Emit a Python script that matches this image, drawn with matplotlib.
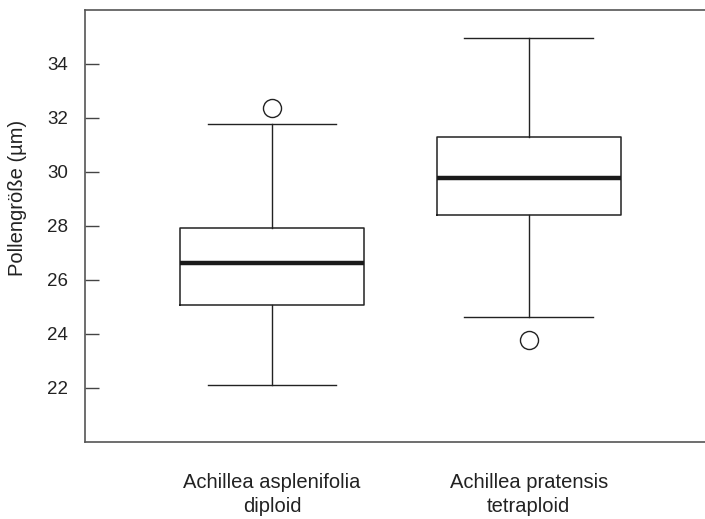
import matplotlib
matplotlib.use("Agg")
import matplotlib.pyplot as plt

plt.rcParams['font.family'] = ['Liberation Sans', 'DejaVu Sans']

labels = ["Achillea asplenifolia\ndiploid", "Achillea pratensis\ntetraploid"]
whislo = [22.12, 24.63]
q1 = [25.08, 28.41]
med = [26.62, 29.77]
q3 = [27.92, 31.30]
whishi = [31.79, 34.96]
fliers = [[32.36], [23.79]]

stats = []
for i in range(len(labels)):
    stats.append(dict(label=labels[i], whislo=whislo[i], q1=q1[i], med=med[i],
                      q3=q3[i], whishi=whishi[i], fliers=fliers[i]))

fig = plt.figure(figsize=(7.05, 5.19), dpi=100)
ax = fig.add_axes([85 / 705, 1 - 442 / 519, 1 - 85 / 705, 432 / 519])

lc = "#222222"
ax.bxp(stats, positions=[1, 2], widths=0.717, capwidths=0.5,
       boxprops=dict(color=lc, linewidth=1.1),
       whiskerprops=dict(color=lc, linewidth=1.0),
       capprops=dict(color=lc, linewidth=1.0),
       medianprops=dict(color="#1a1a1a", linewidth=3.2),
       flierprops=dict(marker="o", markersize=13, markerfacecolor="white",
                       markeredgecolor=lc, markeredgewidth=1.0))

ax.set_xlim(0.2715, 2.687)
ax.set_ylim(20, 36)
ax.set_yticks([22, 24, 26, 28, 30, 32, 34])
ax.tick_params(axis="y", direction="in", length=10, width=1, color="#444444",
               labelsize=13.5, pad=12, labelcolor="#222222")
ax.tick_params(axis="x", length=0, labelsize=14.5, pad=22, labelcolor="#222222")
for t in ax.get_xticklabels():
    t.set_linespacing(1.35)
ax.spines["right"].set_visible(False)
for s in ["left", "top", "bottom"]:
    ax.spines[s].set_color("#555555")
    ax.spines[s].set_linewidth(1.2)

ax.set_ylabel("Pollengröße (µm)", fontsize=14.5, color="#222222")
ax.yaxis.set_label_coords(-0.094, 0.565)

fig.savefig("out.png", dpi=100)
